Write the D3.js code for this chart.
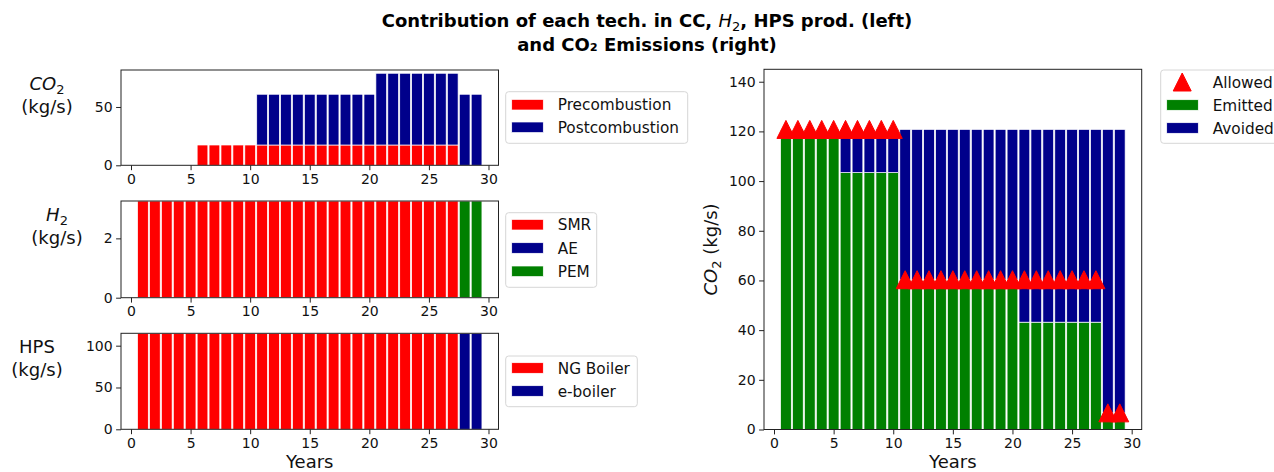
<!DOCTYPE html>
<html>
<head>
<meta charset="utf-8">
<script src="https://cdn.jsdelivr.net/npm/d3@7"></script>
<style>
  html, body { margin: 0; padding: 0; background: #fff; }
  svg { display: block; font-family: "DejaVu Sans", sans-serif; }
</style>
</head>
<body>
<svg id="chart" width="1274" height="472"></svg>
<script>
// ---- data ----
const years = [1,2,3,4,5,6,7,8,9,10,11,12,13,14,15,16,17,18,19,20,21,22,23,24,25,26,27,28,29];
const xTicks = [0,5,10,15,20,25,30];

// carbon capture (kg/s)
const precombustion  = [0,0,0,0,0,17.4,17.4,17.4,17.4,17.4,17.4,17.4,17.4,17.4,17.4,17.4,17.4,17.4,17.4,17.4,17.4,17.4,17.4,17.4,17.4,17.4,17.4,0,0];
const postcombustion = [0,0,0,0,0,0,0,0,0,0,43.5,43.5,43.5,43.5,43.5,43.5,43.5,43.5,43.5,43.5,61.5,61.5,61.5,61.5,61.5,61.5,61.5,60.9,60.9];

// hydrogen production (kg/s)
const smr = [3.26,3.26,3.26,3.26,3.26,3.26,3.26,3.26,3.26,3.26,3.26,3.26,3.26,3.26,3.26,3.26,3.26,3.26,3.26,3.26,3.26,3.26,3.26,3.26,3.26,3.26,3.26,0,0];
const ae  = [0,0,0,0,0,0,0,0,0,0,0,0,0,0,0,0,0,0,0,0,0,0,0,0,0,0,0,0,0];
const pem = [0,0,0,0,0,0,0,0,0,0,0,0,0,0,0,0,0,0,0,0,0,0,0,0,0,0,0,3.26,3.26];

// high-pressure steam production (kg/s)
const ngBoiler = [114.8,114.8,114.8,114.8,114.8,114.8,114.8,114.8,114.8,114.8,114.8,114.8,114.8,114.8,114.8,114.8,114.8,114.8,114.8,114.8,114.8,114.8,114.8,114.8,114.8,114.8,114.8,0,0];
const eBoiler  = [0,0,0,0,0,0,0,0,0,0,0,0,0,0,0,0,0,0,0,0,0,0,0,0,0,0,0,114.8,114.8];

// CO2 emissions (kg/s)
const emitted = [120.8,120.8,120.8,120.8,120.8,103.4,103.4,103.4,103.4,103.4,60.3,60.3,60.3,60.3,60.3,60.3,60.3,60.3,60.3,60.3,43.2,43.2,43.2,43.2,43.2,43.2,43.2,6.7,6.7];
const avoided = [0,0,0,0,0,17.4,17.4,17.4,17.4,17.4,60.5,60.5,60.5,60.5,60.5,60.5,60.5,60.5,60.5,60.5,77.6,77.6,77.6,77.6,77.6,77.6,77.6,114.1,114.1];
const allowed = [120.8,120.8,120.8,120.8,120.8,120.8,120.8,120.8,120.8,120.8,60.3,60.3,60.3,60.3,60.3,60.3,60.3,60.3,60.3,60.3,60.3,60.3,60.3,60.3,60.3,60.3,60.3,6.7,6.7];

// ---- styles ----
const RED = "#ff0000", BLUE = "#00008b", GREEN = "#008000";
const TICK_FONT = 14, LABEL_FONT = 18, LEGEND_FONT = 15.3;
const BAR_W = 0.9;

const svg = d3.select("#chart");

// generic stacked-bar panel
function panel(box, yMax, yTickVals, series) {
  const g = svg.append("g");
  const x = d3.scaleLinear().domain([-0.84, 30.84]).range([box.x0, box.x1]);
  const y = d3.scaleLinear().domain([0, yMax]).range([box.y1, box.y0]);

  const rows = years.map((yr, i) => {
    const r = { year: yr };
    series.forEach(s => r[s.name] = s.values[i]);
    return r;
  });
  const stacked = d3.stack().keys(series.map(s => s.name))(rows);

  stacked.forEach((layer, li) => {
    g.append("g").selectAll("rect")
      .data(layer.filter(d => d[1] - d[0] > 0))
      .join("rect")
      .attr("x", d => x(d.data.year - BAR_W / 2))
      .attr("width", x(BAR_W) - x(0))
      .attr("y", d => y(d[1]))
      .attr("height", d => y(d[0]) - y(d[1]))
      .attr("fill", series[li].color)
      .attr("stroke", "#fff")
      .attr("stroke-width", 0.7);
  });

  // axes
  const xa = g.append("g").attr("transform", `translate(0,${box.y1})`)
    .call(d3.axisBottom(x).tickValues(xTicks).tickSize(4.9).tickPadding(3.5).tickFormat(d3.format("d")));
  const ya = g.append("g").attr("transform", `translate(${box.x0},0)`)
    .call(d3.axisLeft(y).tickValues(yTickVals).tickSize(4.9).tickPadding(3.5).tickFormat(d3.format("d")));
  [xa, ya].forEach(a => {
    a.select(".domain").remove();
    a.selectAll("text").attr("font-size", TICK_FONT).attr("fill", "#111").attr("font-family", "DejaVu Sans");
    a.selectAll("line").attr("stroke", "#222").attr("stroke-width", 1);
  });

  // frame
  g.append("rect")
    .attr("x", box.x0).attr("y", box.y0)
    .attr("width", box.x1 - box.x0).attr("height", box.y1 - box.y0)
    .attr("fill", "none").attr("stroke", "#222").attr("stroke-width", 1);

  return { g, x, y };
}

// legend with coloured patches (and optional triangle marker)
function legend(box, rows) {
  const g = svg.append("g");
  g.append("rect")
    .attr("x", box.x).attr("y", box.y).attr("width", box.w).attr("height", box.h)
    .attr("rx", 3).attr("fill", "#fff").attr("fill-opacity", 0.8)
    .attr("stroke", "#d6d6d6").attr("stroke-width", 1);
  rows.forEach(r => {
    if (r.marker) {
      g.append("path").attr("d", tri(box.x + 21.5, r.y, 9)).attr("fill", r.color).attr("stroke", r.color);
    } else {
      g.append("rect")
        .attr("x", box.x + 6).attr("y", r.y - 5.3).attr("width", 31.6).attr("height", 10.6)
        .attr("fill", r.color).attr("stroke", "#fff").attr("stroke-width", 0.7);
    }
    g.append("text").attr("x", box.x + 52).attr("y", r.y + 5.5)
      .attr("font-size", LEGEND_FONT).attr("fill", "#111").text(r.label);
  });
}

function tri(cx, cy, h) {
  return `M${cx},${cy - h}L${cx + h},${cy + h}L${cx - h},${cy + h}Z`;
}

// two-line horizontal y label, bottom anchored at the axis centre
function sideLabel(cx, axisMid, first) {
  const t1 = svg.append("text").attr("x", cx).attr("y", axisMid - 28)
    .attr("text-anchor", "middle").attr("font-size", LABEL_FONT).attr("fill", "#111");
  first(t1);
  svg.append("text").attr("x", cx).attr("y", axisMid - 5)
    .attr("text-anchor", "middle").attr("font-size", LABEL_FONT).attr("fill", "#111").text("(kg/s)");
}

// ---- title ----
const title = svg.append("text").attr("x", 647).attr("y", 27)
  .attr("text-anchor", "middle").attr("font-size", 18).attr("font-weight", "bold").attr("fill", "#000");
title.append("tspan").text("Contribution of each tech. in CC, ");
title.append("tspan").attr("font-style", "italic").attr("font-weight", "normal").text("H");
title.append("tspan").attr("font-weight", "normal").attr("font-size", 13).attr("dy", 4).text("2");
title.append("tspan").attr("dy", -4).text(", HPS prod. (left)");
svg.append("text").attr("x", 647).attr("y", 51)
  .attr("text-anchor", "middle").attr("font-size", 18).attr("font-weight", "bold").attr("fill", "#000")
  .text("and CO\u2082 Emissions (right)");

// ---- left: carbon capture ----
const boxCC = { x0: 121, x1: 498.5, y0: 70, y1: 165.3 };
panel(boxCC, 81.7, [0, 50], [
  { name: "Precombustion", values: precombustion, color: RED },
  { name: "Postcombustion", values: postcombustion, color: BLUE }
]);
sideLabel(47, (boxCC.y0 + boxCC.y1) / 2, t => {
  t.append("tspan").attr("font-style", "italic").text("CO");
  t.append("tspan").attr("font-size", 13).attr("dy", 4).text("2");
});
legend({ x: 505.7, y: 91.7, w: 182, h: 51.6 }, [
  { label: "Precombustion", color: RED, y: 104.7 },
  { label: "Postcombustion", color: BLUE, y: 127.3 }
]);

// ---- left: hydrogen ----
const boxH2 = { x0: 121, x1: 498.5, y0: 201, y1: 297.7 };
panel(boxH2, 3.26, [0, 2], [
  { name: "SMR", values: smr, color: RED },
  { name: "AE", values: ae, color: BLUE },
  { name: "PEM", values: pem, color: GREEN }
]);
sideLabel(57, (boxH2.y0 + boxH2.y1) / 2, t => {
  t.append("tspan").attr("font-style", "italic").text("H");
  t.append("tspan").attr("font-size", 13).attr("dy", 4).text("2");
});
legend({ x: 505.7, y: 212.7, w: 91, h: 74.6 }, [
  { label: "SMR", color: RED, y: 224.7 },
  { label: "AE", color: BLUE, y: 248 },
  { label: "PEM", color: GREEN, y: 271.3 }
]);

// ---- left: HPS ----
const boxHPS = { x0: 121, x1: 498.5, y0: 333.3, y1: 429.3 };
panel(boxHPS, 114.8, [0, 50, 100], [
  { name: "NG Boiler", values: ngBoiler, color: RED },
  { name: "e-boiler", values: eBoiler, color: BLUE }
]);
sideLabel(37, (boxHPS.y0 + boxHPS.y1) / 2, t => t.text("HPS"));
legend({ x: 505.7, y: 356, w: 131.6, h: 50.7 }, [
  { label: "NG Boiler", color: RED, y: 368 },
  { label: "e-boiler", color: BLUE, y: 391 }
]);
svg.append("text").attr("x", (boxHPS.x0 + boxHPS.x1) / 2).attr("y", 467.5)
  .attr("text-anchor", "middle").attr("font-size", LABEL_FONT).attr("fill", "#111").text("Years");

// ---- right: emissions ----
const boxE = { x0: 764, x1: 1141.7, y0: 69.3, y1: 429.5 };
const pe = panel(boxE, 145, [0, 20, 40, 60, 80, 100, 120, 140], [
  { name: "Emitted", values: emitted, color: GREEN },
  { name: "Avoided", values: avoided, color: BLUE }
]);
pe.g.append("g").selectAll("path")
  .data(years.map((yr, i) => ({ year: yr, v: allowed[i] })))
  .join("path")
  .attr("d", d => tri(pe.x(d.year), pe.y(d.v), 9))
  .attr("fill", RED).attr("stroke", RED).attr("stroke-width", 1);

svg.append("text")
  .attr("transform", `translate(717,${(boxE.y0 + boxE.y1) / 2}) rotate(-90)`)
  .attr("text-anchor", "middle").attr("font-size", LABEL_FONT).attr("fill", "#111")
  .call(t => {
    t.append("tspan").attr("font-style", "italic").text("CO");
    t.append("tspan").attr("font-size", 13).attr("dy", 4).text("2");
    t.append("tspan").attr("dy", -4).text(" (kg/s)");
  });
svg.append("text").attr("x", (boxE.x0 + boxE.x1) / 2).attr("y", 467.5)
  .attr("text-anchor", "middle").attr("font-size", LABEL_FONT).attr("fill", "#111").text("Years");

legend({ x: 1160.7, y: 70, w: 130, h: 73.3 }, [
  { label: "Allowed", color: RED, y: 82, marker: true },
  { label: "Emitted", color: GREEN, y: 105 },
  { label: "Avoided", color: BLUE, y: 128 }
]);
</script>
</body>
</html>
